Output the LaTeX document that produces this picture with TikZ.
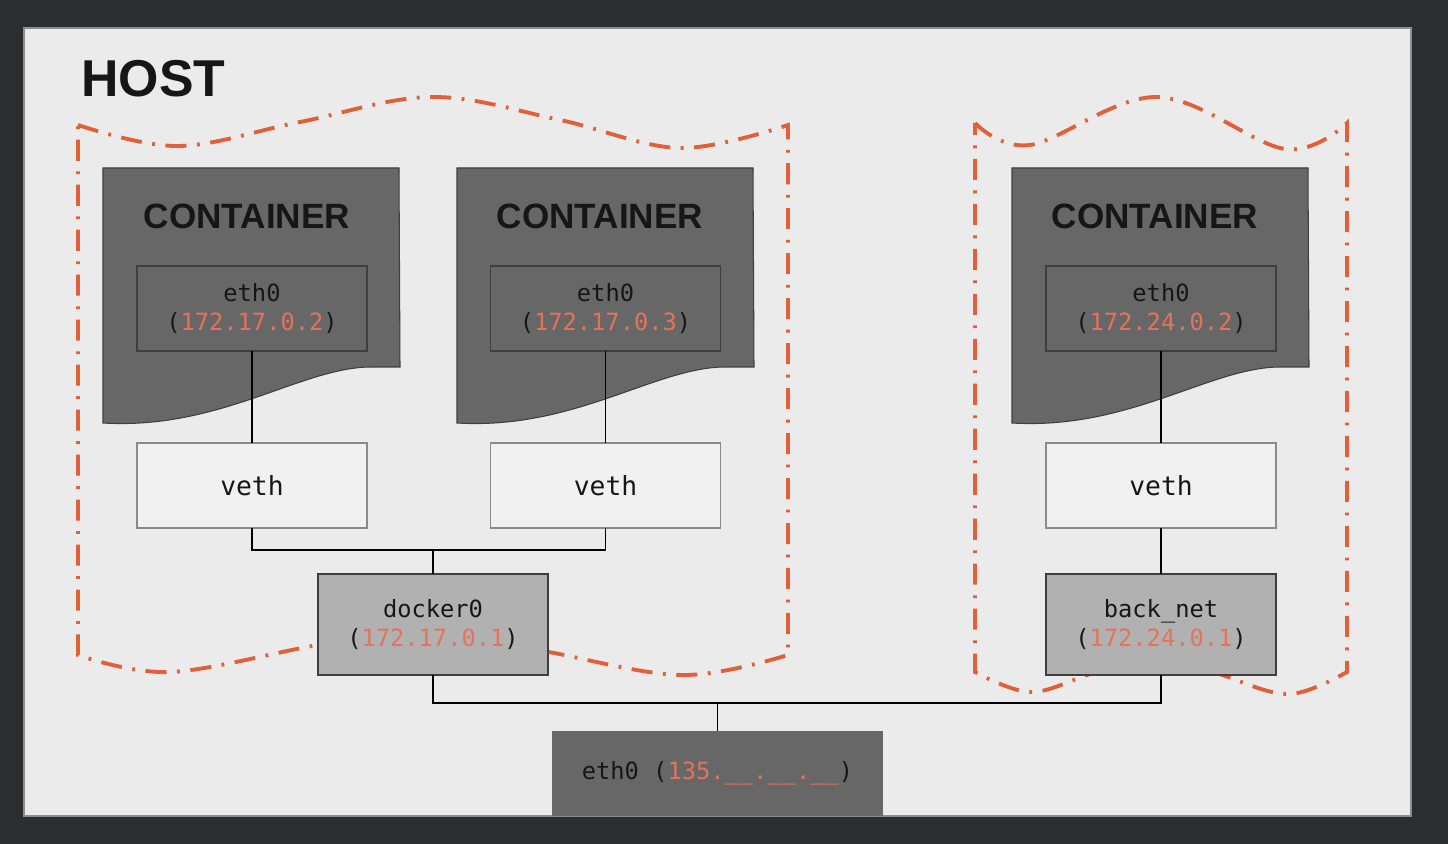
\documentclass[tikz,border=0pt]{standalone}
\usepackage{fontspec}
\setmainfont{Liberation Sans}
\newfontfamily\netfont{DejaVu Sans Mono}

\definecolor{frame}{HTML}{2B2D31}
\definecolor{hostbg}{HTML}{EBEBEB}
\definecolor{panelgray}{HTML}{8E8E8E}
\definecolor{ctrgray}{HTML}{676767}
\definecolor{ctredge}{HTML}{3E3E3E}
\definecolor{vethbg}{HTML}{F1F1F1}
\definecolor{vethedge}{HTML}{8A8A8A}
\definecolor{bridgegray}{HTML}{B1B1B1}
\definecolor{zoneorange}{HTML}{E0603A}
\definecolor{iporange}{HTML}{E5735A}
\definecolor{inktext}{HTML}{161616}

\newcommand{\ipaddr}[1]{\textcolor{iporange}{#1}}

\tikzset{
  zone/.style={draw=zoneorange, line width=2.2pt,
    dash pattern=on 12pt off 6pt on 1.6pt off 6pt},
  ctr/.style={fill=ctrgray, draw=ctredge, line width=0.6pt},
  ctrlabel/.style={text=inktext, font=\bfseries\fontsize{20}{24}\selectfont},
  hostlabel/.style={text=inktext, font=\bfseries\fontsize{29.5}{34}\selectfont,
    inner sep=0pt},
  netbox/.style={align=center, inner sep=0pt, outer sep=0pt, text=inktext,
    minimum width=4.6cm, minimum height=1.7cm,
    font=\netfont\fontsize{13.5}{16}\selectfont},
  ifbox/.style={netbox, fill=ctrgray, draw=ctredge, line width=0.8pt},
  vethbox/.style={netbox, fill=vethbg, draw=vethedge, line width=0.8pt,
    font=\netfont\fontsize{15}{18}\selectfont},
  bridgebox/.style={netbox, fill=bridgegray, draw=ctredge, line width=0.8pt,
    minimum height=2.02cm},
  uplink/.style={netbox, fill=ctrgray, minimum width=6.62cm},
  wire/.style={draw=black, line width=1.1pt},
}

\begin{document}
\begin{tikzpicture}[x=0.02cm, y=-0.02cm]
  \useasboundingbox (0,0) rectangle (1448,844);
  \fill [frame] (0,0) rectangle (1448,844);
  \fill [hostbg] (24,28) rectangle (1411,816);
  \draw [panelgray, line width=0.8pt] (24,28) rectangle (1411,816);

  \node [hostlabel, anchor=west] (host) at (81,79) {HOST};

  % network zones
  \draw [zone] plot [smooth, tension=0.6] coordinates {(78,125) (178,146) (300,122) (432,97) (560,120) (680,148) (788,125)}
    -- plot [smooth, tension=0.6] coordinates {(788,655) (683,675) (549,652) (433,628) (318,645) (170,672) (78,655)} -- cycle;
  \draw [zone] plot [smooth, tension=0.6] coordinates {(975,123) (1030,145) (1157,97) (1285,149) (1347,123)}
    -- plot [smooth, tension=0.6] coordinates {(1347,672) (1290,694) (1225,676) (1161,650) (1090,674) (1030,692) (975,672)} -- cycle;

  % containers
  \foreach \cx in {103, 457, 1012}
    \draw [ctr] (\cx,168) -- ({\cx+296},168) -- ({\cx+297},367) -- ({\cx+267},367)
      .. controls ({\cx+197},368) and ({\cx+117},430) .. (\cx,423) -- cycle;

  \node [ctrlabel] (c1) at (247,216) {CONTAINER};
  \node [ctrlabel] (c2) at (600,216) {CONTAINER};
  \node [ctrlabel] (c3) at (1155,216) {CONTAINER};

  \node [ifbox] (e1) at (252,308.5) {eth0\\(\ipaddr{172.17.0.2})};
  \node [ifbox] (e2) at (605.5,308.5) {eth0\\(\ipaddr{172.17.0.3})};
  \node [ifbox] (e3) at (1161,308.5) {eth0\\(\ipaddr{172.24.0.2})};

  \node [vethbox] (v1) at (252,485.5) {veth};
  \node [vethbox] (v2) at (605.5,485.5) {veth};
  \node [vethbox] (v3) at (1161,485.5) {veth};

  \node [bridgebox] (d0) at (433,624.5) {docker0\\(\ipaddr{172.17.0.1})};
  \node [bridgebox] (bn) at (1161,624.5) {back\_net\\(\ipaddr{172.24.0.1})};

  \node [uplink] (h0) at (717.5,773.5) {eth0 (\ipaddr{135.\_\_.\_\_.\_\_})};

  \coordinate (j1) at (433,550);
  \coordinate (j2) at (717.5,703);

  \draw [wire] (e1.south) -- (v1.north);
  \draw [wire] (e2.south) -- (v2.north);
  \draw [wire] (e3.south) -- (v3.north);
  \draw [wire] (v1.south) |- (j1) -| (v2.south);
  \draw [wire] (j1) -- (d0.north);
  \draw [wire] (v3.south) -- (bn.north);
  \draw [wire] (d0.south) |- (j2) -| (bn.south);
  \draw [wire] (j2) -- (h0.north);
\end{tikzpicture}
\end{document}
